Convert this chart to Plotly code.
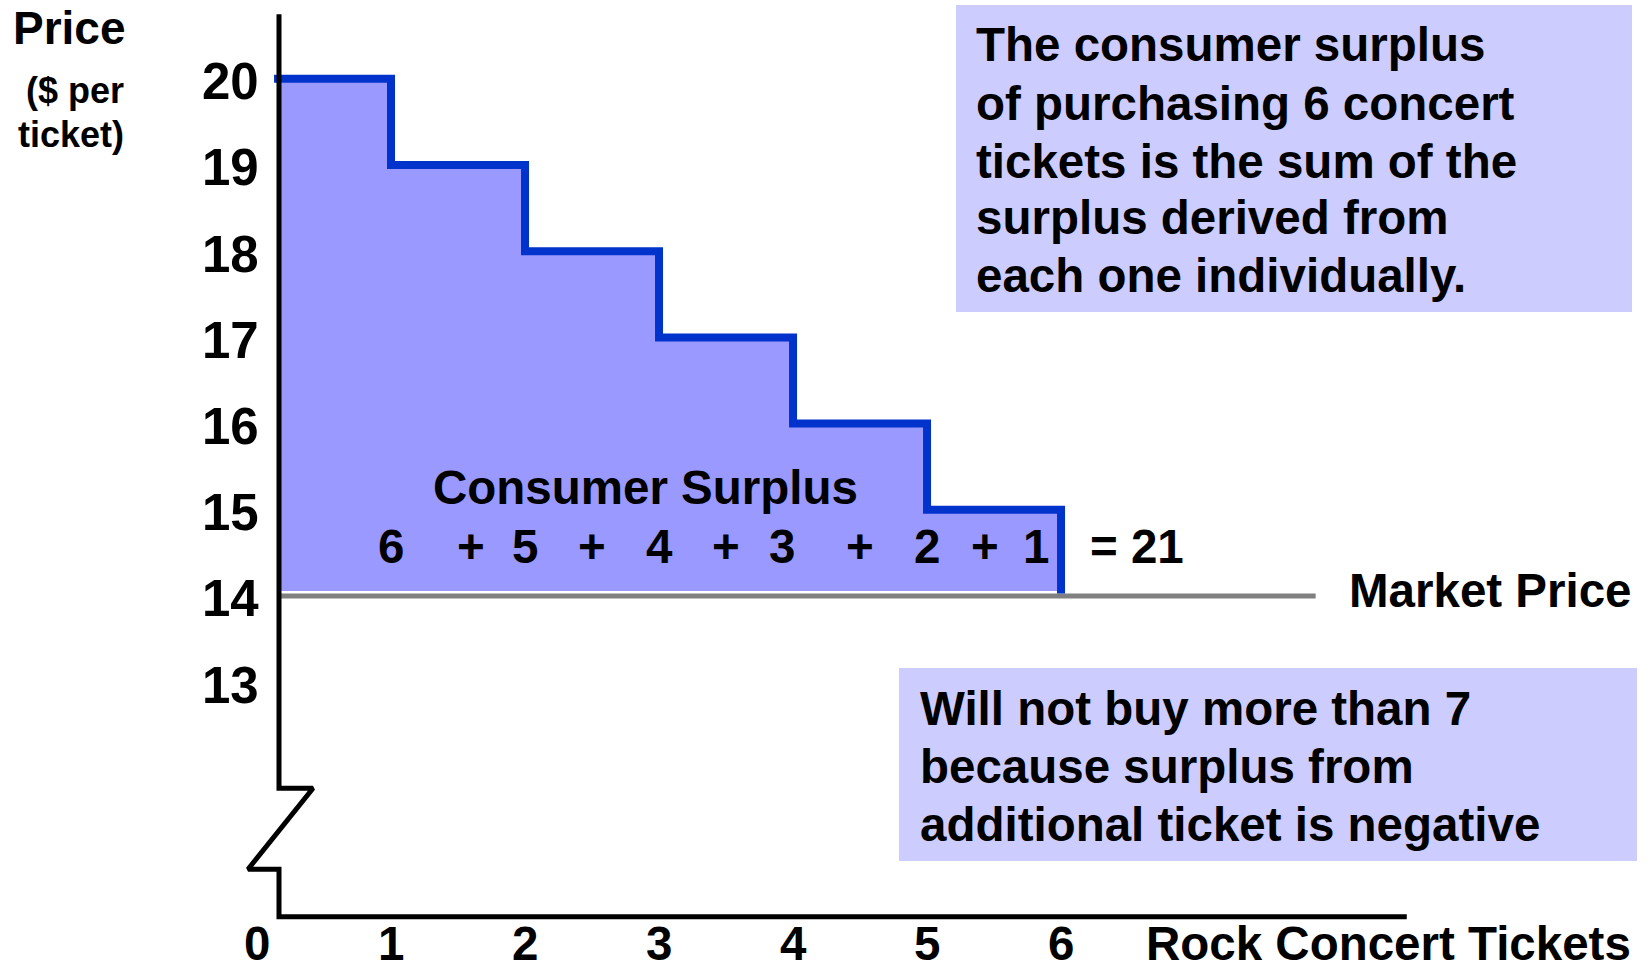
import plotly.graph_objects as go

# ---- data -------------------------------------------------------------
QUANTITY = [0, 1, 2, 3, 4, 5, 6]            # tickets bought
WILLINGNESS = [20, 19, 18, 17, 16, 15]      # value of the 1st..6th ticket ($)
MARKET_PRICE = 14
Y_TICKS = [20, 19, 18, 17, 16, 15, 14, 13]
X_TICKS = [0, 1, 2, 3, 4, 5, 6]
SURPLUS = [w - MARKET_PRICE for w in WILLINGNESS]   # 6, 5, 4, 3, 2, 1
TOTAL_SURPLUS = sum(SURPLUS)

# ---- layout constants (positions of decorations, in axis units) -------
W, H = 1652, 967
X_RANGE = [-1.918, 10.41]
Y_RANGE = [9.696, 20.914]
AXIS_X = 0.164          # where the vertical price axis is drawn
AXIS_TOP = 20.75
AXIS_BOTTOM = 10.28
AXIS_RIGHT = 8.58
BREAK_TOP, BREAK_BOTTOM = 11.77, 10.83
BREAK_RIGHT, BREAK_LEFT = 0.418, -0.067
LINE_START = 0.127
MARKET_LINE_END = 7.9
FILL_GAP = 0.058
SUM_LABEL_X = [1.0, 2.0, 3.0, 3.92, 5.0, 5.81]
PLUS_X = [1.6, 2.5, 3.5, 4.5, 5.43]
SUM_ROW_Y = 14.58

FONT = "Liberation Sans, Arial, sans-serif"
FILL = "#9999FF"
BOX = "#CCCCFF"
BLUE = "#0033CC"
GREY = "#808080"

# step-shaped demand (willingness to pay) curve
step_x, step_y = [], []
for k, w in enumerate(WILLINGNESS):
    step_x += [QUANTITY[k], QUANTITY[k + 1]]
    step_y += [w, w]
step_x[0] = LINE_START
step_x.append(QUANTITY[-1])
step_y.append(MARKET_PRICE + 0.03)

# surplus area under the steps and above the market price
fill_x = [AXIS_X, AXIS_X] + step_x[1:-1] + [QUANTITY[-1]]
fill_y = [MARKET_PRICE + FILL_GAP, WILLINGNESS[0]] + step_y[1:-1] + [MARKET_PRICE + FILL_GAP]

fig = go.Figure()

fig.add_trace(go.Scatter(
    x=fill_x, y=fill_y, mode="lines", fill="toself", fillcolor=FILL,
    line=dict(width=0), hoverinfo="skip", showlegend=False))

# market price line
fig.add_trace(go.Scatter(
    x=[AXIS_X, MARKET_LINE_END], y=[MARKET_PRICE, MARKET_PRICE], mode="lines",
    line=dict(color=GREY, width=5), hoverinfo="skip", showlegend=False))

# demand steps
fig.add_trace(go.Scatter(
    x=step_x, y=step_y, mode="lines",
    line=dict(color=BLUE, width=8), hoverinfo="skip", showlegend=False))

# axes with the break mark on the price axis
fig.add_trace(go.Scatter(
    x=[AXIS_X, AXIS_X, BREAK_RIGHT, BREAK_LEFT, AXIS_X, AXIS_X, AXIS_RIGHT],
    y=[AXIS_TOP, BREAK_TOP, BREAK_TOP, BREAK_BOTTOM, BREAK_BOTTOM, AXIS_BOTTOM, AXIS_BOTTOM],
    mode="lines", line=dict(color="black", width=5),
    hoverinfo="skip", showlegend=False))

annotations = []


def txt(text, x, y, size=47.5, xanchor="center", yanchor="middle",
        xref="x", yref="y", xshift=0, yshift=0):
    annotations.append(dict(
        text=text, x=x, y=y, xref=xref, yref=yref, showarrow=False,
        xanchor=xanchor, yanchor=yanchor, xshift=xshift, yshift=yshift,
        font=dict(family=FONT, size=size, color="black", weight="bold")))


# y tick labels
for v in Y_TICKS:
    txt(str(v), AXIS_X, v, size=51, xanchor="right", xshift=-18, yshift=-3)

# x tick labels
for v in X_TICKS:
    txt(str(v), v, AXIS_BOTTOM, size=47.5, yshift=-27)

txt("Rock Concert Tickets", 1144 / W, AXIS_BOTTOM, xref="paper", xanchor="left", yshift=-27)

# axis title
txt("Price", 128 / W, 1 - 28 / H, size=46, xref="paper", yref="paper", xanchor="right")
txt("($ per", 126 / W, 1 - 90 / H, size=36, xref="paper", yref="paper", xanchor="right")
txt("ticket)", 126 / W, 1 - 135 / H, size=36, xref="paper", yref="paper", xanchor="right")

txt("Market Price", MARKET_LINE_END, MARKET_PRICE, xanchor="left", xshift=31, yshift=5)

# consumer surplus labels
txt("Consumer Surplus", 2.896, 15.26)
for x, s in zip(SUM_LABEL_X, SURPLUS):
    txt(str(s), x, SUM_ROW_Y)
for x in PLUS_X:
    txt("+", x, SUM_ROW_Y)
txt(f"= {TOTAL_SURPLUS}", QUANTITY[-1], SUM_ROW_Y, xanchor="left", xshift=27)

# explanatory boxes
shapes = [
    dict(type="rect", xref="paper", yref="paper", x0=956 / W, x1=1632 / W,
         y0=1 - 312 / H, y1=1 - 5 / H, fillcolor=BOX, line=dict(width=0), layer="below"),
    dict(type="rect", xref="paper", yref="paper", x0=899 / W, x1=1637 / W,
         y0=1 - 861 / H, y1=1 - 668 / H, fillcolor=BOX, line=dict(width=0), layer="below"),
]

top_lines = ["The consumer surplus", "of purchasing 6 concert",
             "tickets is the sum of the", "surplus derived from",
             "each one individually."]
for line, py in zip(top_lines, [45, 103, 161, 218, 276]):
    txt(line, 974 / W, 1 - py / H, xref="paper", yref="paper", xanchor="left")

bottom_lines = ["Will not buy more than 7", "because surplus from",
                "additional ticket is negative"]
for line, py in zip(bottom_lines, [708, 766, 824]):
    txt(line, 918 / W, 1 - py / H, xref="paper", yref="paper", xanchor="left")

fig.update_layout(
    width=W, height=H, margin=dict(l=0, r=0, t=0, b=0),
    paper_bgcolor="white", plot_bgcolor="white",
    xaxis=dict(range=X_RANGE, visible=False, fixedrange=True),
    yaxis=dict(range=Y_RANGE, visible=False, fixedrange=True),
    annotations=annotations, shapes=shapes, showlegend=False,
)

fig.write_html("out.html")
